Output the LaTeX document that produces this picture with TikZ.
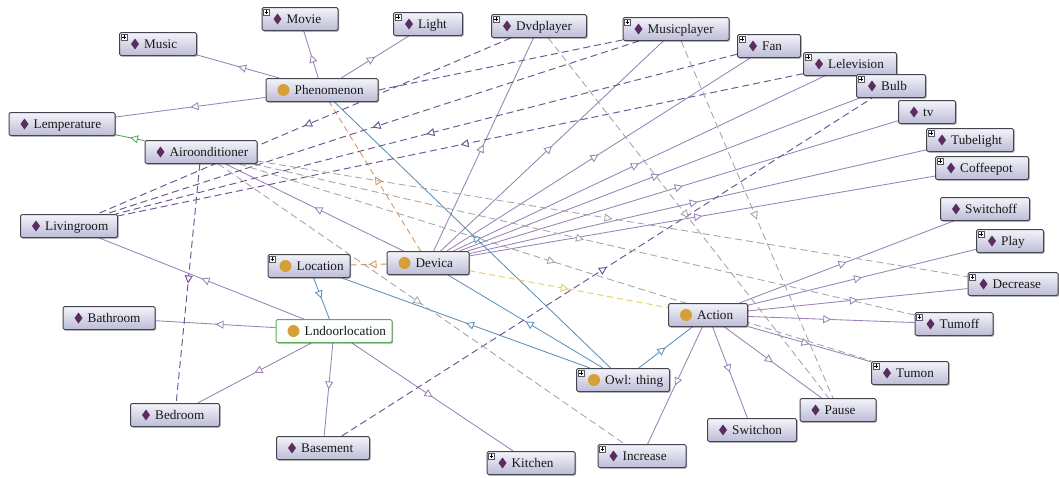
\documentclass[tikz,border=0pt]{standalone}
\usepackage{fontspec}
\setmainfont{Liberation Serif}
\usetikzlibrary{arrows.meta,decorations.markings,shadows,calc}
\definecolor{subc}{HTML}{9A82B6}
\definecolor{dpc}{HTML}{6E5494}
\definecolor{grayc}{HTML}{A4A4A4}
\definecolor{bluec}{HTML}{5E90B8}
\definecolor{orangec}{HTML}{D8935A}
\definecolor{yellowc}{HTML}{E6CF6A}
\definecolor{greenc}{HTML}{4DAA4D}
\definecolor{diac}{HTML}{5A2D5E}
\definecolor{circc}{HTML}{D4A037}
\definecolor{boxb}{HTML}{45454F}
\definecolor{boxt}{HTML}{F4F4FB}
\definecolor{boxbtm}{HTML}{BCBCD6}
\definecolor{gboxb}{HTML}{5FA85F}
\definecolor{plusc}{HTML}{555560}
\pgfdeclarelayer{bg}
\pgfsetlayers{bg,main}
\tikzset{
  box/.style={draw=boxb, line width=1pt, rounded corners=1.5pt, top color=boxt, bottom color=boxbtm,
    minimum height=23pt, inner sep=0pt,
    drop shadow={shadow xshift=1.2pt, shadow yshift=-1.2pt, opacity=0.35, fill=black}},
  gbox/.style={draw=gboxb, top color=white, bottom color=boxt!70!green!8},
  lbl/.style={anchor=base west, inner sep=0pt, text=black!90, font=\fontsize{13.2}{15}\selectfont},
  mid/.style={postaction={decorate, decoration={markings,
     mark=at position 0.5 with {\arrow[solid]{Triangle[length=8pt,width=8pt,fill=white]}}}}},
  sub/.style={subc, line width=0.85pt},
  blu/.style={bluec, line width=0.85pt},
  grn/.style={greenc, line width=0.85pt},
  org/.style={orangec, line width=0.85pt, dash pattern=on 6pt off 4pt},
  yel/.style={yellowc, line width=0.95pt, dash pattern=on 6pt off 4pt},
  dp/.style={dpc, line width=0.95pt, dash pattern=on 7pt off 4pt},
  gd/.style={grayc, line width=0.85pt, dash pattern=on 7pt off 4pt},
}
\newcommand\bxd[5][]{%
  \node[box,#1,minimum width=#4pt] (#2) at (#3) {};
  \fill[diac] ($(#2.west)+(12,0)$) -- ++(4,-5.5) -- ++(4,5.5) -- ++(-4,5.5) -- cycle;
  \node[lbl] (#2-t) at ($(#2.west)+(25,4.5)$) {#5};}
\newcommand\bxc[5][]{%
  \node[box,#1,minimum width=#4pt] (#2) at (#3) {};
  \fill[circc] ($(#2.west)+(18,0)$) circle[radius=6pt];
  \node[lbl] (#2-t) at ($(#2.west)+(29,4.5)$) {#5};}
\newcommand\pls[1]{%
  \draw[plusc, fill=white, line width=0.4pt] ($(#1.north west)+(2,2)$) rectangle ++(6,6);
  \draw[black, line width=0.5pt] ($(#1.north west)+(3.2,5)$) -- ++(3.6,0) ($(#1.north west)+(5,3.2)$) -- ++(0,3.6);}
\begin{document}
\begin{tikzpicture}[x=1pt,y=-1pt]
\useasboundingbox (0,0) rectangle (1059,477);
% nodes
\bxd{movie}{300,19}{76}{Movie}
\bxd{music}{158,44}{77}{Music}
\bxd{light}{428,24}{69}{Light}
\bxd{dvd}{539,26}{95}{Dvdplayer}
\bxd{musicp}{676,29}{106}{Musicplayer}
\bxd{fan}{769,46}{63}{Fan}
\bxd{lelev}{850,64}{93}{Lelevision}
\bxd{bulb}{891,86}{69}{Bulb}
\bxd{tv}{927,112}{57}{tv}
\bxd{tube}{970,140}{87}{Tubelight}
\bxd{coffee}{982,168}{93}{Coffeepot}
\bxd{swoff}{985,209}{89}{Switchoff}
\bxd{play}{1010,241}{67}{Play}
\bxd{decr}{1013,284}{90}{Decrease}
\bxd{tumoff}{954,324}{78}{Tumoff}
\bxd{tumon}{910,373}{77}{Tumon}
\bxd{pause}{838,410}{76}{Pause}
\bxd{swon}{752,430}{89}{Switchon}
\bxd{incr}{642,456}{88}{Increase}
\bxd{kitchen}{531,463}{88}{Kitchen}
\bxd{basement}{323,448}{93}{Basement}
\bxd{bedroom}{175,415}{89}{Bedroom}
\bxd{bathroom}{109,318}{92}{Bathroom}
\bxd{living}{69,226}{97}{Livingroom}
\bxd{lemp}{62,124}{106}{Lemperature}
\bxd{airo}{201,152}{112}{Airoonditioner}
\bxc{phen}{322,90}{112}{Phenomenon}
\bxc{loc}{309,266}{82}{Location}
\bxc[gbox]{indoor}{334,331}{116}{Lndoorlocation}
\bxc{devica}{428,263}{82}{Devica}
\bxc{action}{708,315}{79}{Action}
\bxc{owl}{623,380}{93}{Owl: thing}
\foreach \n in {movie,music,light,dvd,musicp,fan,lelev,bulb,tube,coffee,play,decr,tumoff,tumon,incr,kitchen,loc,owl} {\pls{\n}}
% connectors
\begin{pgfonlayer}{bg}
\fill[white] (0,0) rectangle (1059,477);
\draw[sub,mid] (phen) -- (music);
\draw[sub,mid] (phen) -- (movie);
\draw[sub,mid] (phen) -- (light);
\draw[sub,mid] (phen) -- (lemp);
\foreach \t in {dvd,musicp,fan,lelev,bulb,tv,tube,coffee,airo} {\draw[sub,mid] (devica) -- (\t);}
\foreach \t in {living,bathroom,bedroom,basement,kitchen} {\draw[sub,mid] (indoor) -- (\t);}
\foreach \t in {swoff,play,decr,tumoff,tumon,pause,swon,incr} {\draw[sub,mid] (action) -- (\t);}
\foreach \t in {phen,devica,loc,action} {\draw[blu,mid] (owl) -- (\t);}
\draw[blu,mid] (loc) -- (indoor);
\draw[grn,mid] (airo) -- (lemp);
\draw[org,mid] (devica) -- (phen);
\draw[org,mid] (devica) -- (loc);
\draw[yel,mid] (devica) -- (action);
\foreach \s in {dvd,musicp,fan,lelev} {\draw[dp,mid] (\s) -- (living);}
\draw[dp] (phen.east) -- (musicp);
\draw[dp,mid] (airo) -- (bedroom);
\draw[dp,mid] (basement) -- (bulb);
\foreach \t in {decr,tumoff,tumon,incr} {\draw[gd,mid] (airo) -- (\t);}
\draw[gd,mid] (dvd) -- (pause);
\draw[gd,mid] (musicp) -- (pause);
\end{pgfonlayer}
\end{tikzpicture}
\end{document}
